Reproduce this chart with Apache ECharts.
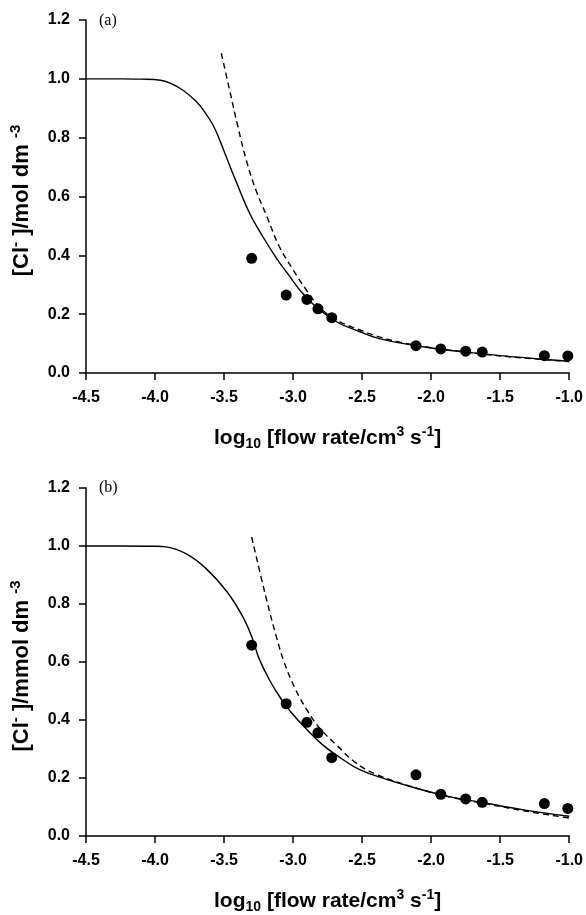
<!DOCTYPE html>
<html>
<head>
<meta charset="utf-8">
<script src="https://cdn.jsdelivr.net/npm/echarts@6/dist/echarts.min.js"></script>
<style>html,body{margin:0;padding:0;background:#fff;}#c{width:586px;height:915px;}</style>
</head>
<body>
<div id="c"></div>
<script>
// ---- data ----
var xTicks = [-4.5, -4.0, -3.5, -3.0, -2.5, -2.0, -1.5, -1.0];
var yTicks = [0.0, 0.2, 0.4, 0.6, 0.8, 1.0, 1.2];

var obsX = [-3.30, -3.05, -2.90, -2.82, -2.72, -2.11, -1.93, -1.75, -1.63, -1.18, -1.01];
var obsA = [0.390, 0.265, 0.250, 0.218, 0.188, 0.093, 0.082, 0.074, 0.071, 0.059, 0.058];
var obsB = [0.658, 0.456, 0.392, 0.356, 0.270, 0.211, 0.144, 0.128, 0.116, 0.112, 0.095];

var solidAX = [-4.50, -4.25, -4.10, -3.96, -3.82, -3.70, -3.64, -3.58, -3.53, -3.48, -3.41, -3.315, -3.22, -3.12, -3.03, -2.93, -2.81, -2.67, -2.52, -2.40, -2.25, -2.00, -1.75, -1.50, -1.25, -1.00];
var solidAY = [1.000, 1.000, 0.999, 0.995, 0.968, 0.922, 0.887, 0.843, 0.790, 0.730, 0.648, 0.543, 0.464, 0.390, 0.332, 0.270, 0.215, 0.170, 0.141, 0.120, 0.104, 0.085, 0.071, 0.059, 0.049, 0.040];

var dashAX = [-3.52, -3.46, -3.40, -3.34, -3.27, -3.19, -3.10, -3.00, -2.905, -2.79, -2.665, -2.52, -2.40, -2.25, -2.00, -1.75, -1.50, -1.25, -1.00];
var dashAY = [1.087, 0.962, 0.838, 0.725, 0.623, 0.532, 0.430, 0.351, 0.283, 0.215, 0.175, 0.147, 0.126, 0.107, 0.086, 0.071, 0.058, 0.048, 0.039];

var solidBX = [-4.50, -4.25, -4.00, -3.92, -3.77, -3.63, -3.48, -3.36, -3.29, -3.25, -3.17, -3.09, -3.01, -2.90, -2.79, -2.68, -2.55, -2.41, -2.14, -1.87, -1.60, -1.33, -1.00];
var solidBY = [1.000, 1.000, 0.999, 0.997, 0.972, 0.922, 0.843, 0.752, 0.675, 0.616, 0.537, 0.475, 0.424, 0.367, 0.316, 0.277, 0.237, 0.209, 0.169, 0.136, 0.113, 0.090, 0.068];

var dashBX = [-3.30, -3.20, -3.12, -3.06, -2.98, -2.90, -2.82, -2.68, -2.55, -2.41, -2.14, -1.87, -1.60, -1.33, -1.00];
var dashBY = [1.031, 0.830, 0.685, 0.593, 0.503, 0.435, 0.379, 0.311, 0.254, 0.215, 0.170, 0.135, 0.111, 0.087, 0.062];

var panelLabels = ['(a)', '(b)'];
var yTitles = ['{n|[Cl}{sup|-}{n| ]/mol dm }{sup|-3}', '{n|[Cl}{sup|-}{n| ]/mmol dm }{sup|-3}'];
var xTitle = '{n|log}{sub|10}{n| [flow rate/cm}{sup|3}{n| s}{sup|-1}{n|]}';

// ---- helpers ----
function pairs(xs, ys) { return xs.map(function (x, i) { return [x, ys[i]]; }); }
var FONT = 'Liberation Sans, Arial, sans-serif';
function richFor(size, supSize) {
  var lh = Math.round(size * 1.25);
  return {
    n: { fontSize: size, fontWeight: 'bold', fontFamily: FONT, color: '#000', lineHeight: lh },
    sup: { fontSize: supSize, fontWeight: 'bold', fontFamily: FONT, color: '#000', verticalAlign: 'top', lineHeight: lh, padding: [0, 0, Math.round(size * 0.52), 0] },
    sub: { fontSize: supSize, fontWeight: 'bold', fontFamily: FONT, color: '#000', verticalAlign: 'bottom', lineHeight: lh, padding: [Math.round(size * 0.43), 0, 0, 0] }
  };
}
var grids = [
  { left: 86, top: 20, width: 486, height: 353 },
  { left: 86, top: 488, width: 486, height: 354 }
];
function xAxisFor(i) {
  return {
    type: 'value', gridIndex: i, min: xTicks[0], max: xTicks[xTicks.length - 1], interval: 0.5,
    axisLine: { show: true, onZero: false, lineStyle: { color: '#000', width: 1.5 } },
    axisTick: { show: true, length: 7, lineStyle: { color: '#000', width: 1.5 } },
    splitLine: { show: false },
    axisLabel: { margin: 17, color: '#000', fontSize: 16, fontWeight: 'bold', fontFamily: FONT,
      formatter: function (v) { return v.toFixed(1); } },
    name: xTitle, nameLocation: 'middle', nameGap: 52,
    nameTextStyle: { rich: richFor(21, 14) }
  };
}
function yAxisFor(i) {
  return {
    type: 'value', gridIndex: i, min: yTicks[0], max: yTicks[yTicks.length - 1], interval: 0.2,
    axisLine: { show: true, onZero: false, lineStyle: { color: '#000', width: 1.5 } },
    axisTick: { show: true, length: 7, lineStyle: { color: '#000', width: 1.5 } },
    splitLine: { show: false },
    axisLabel: { margin: 16, color: '#000', fontSize: 16, fontWeight: 'bold', fontFamily: FONT,
      formatter: function (v) { return v.toFixed(1); } },
    name: yTitles[i], nameLocation: 'middle', nameGap: 50,
    nameTextStyle: { rich: richFor(22, 15), padding: [0, 8, 0, 0] }
  };
}
function lineSeries(i, xs, ys, dashed) {
  return {
    type: 'line', xAxisIndex: i, yAxisIndex: i, data: pairs(xs, ys),
    showSymbol: false, smooth: 0.4, silent: true, animation: false,
    lineStyle: { color: '#000', width: 1.4, type: dashed ? [6, 4] : 'solid' }
  };
}
function scatterSeries(i, ys) {
  return {
    type: 'scatter', xAxisIndex: i, yAxisIndex: i, data: pairs(obsX, ys),
    symbol: 'circle', symbolSize: 11, itemStyle: { color: '#000', opacity: 1 }, animation: false
  };
}

var chart = echarts.init(document.getElementById('c'));
chart.setOption({
  backgroundColor: '#fff',
  animation: false,
  title: [
    { text: panelLabels[0], left: 99, top: 13, padding: 0,
      textStyle: { fontFamily: 'Liberation Serif, Times New Roman, serif', fontWeight: 'normal', fontSize: 16, color: '#000' } },
    { text: panelLabels[1], left: 99, top: 480, padding: 0,
      textStyle: { fontFamily: 'Liberation Serif, Times New Roman, serif', fontWeight: 'normal', fontSize: 16, color: '#000' } }
  ],
  grid: grids,
  xAxis: [xAxisFor(0), xAxisFor(1)],
  yAxis: [yAxisFor(0), yAxisFor(1)],
  series: [
    lineSeries(0, solidAX, solidAY, false),
    lineSeries(0, dashAX, dashAY, true),
    scatterSeries(0, obsA),
    lineSeries(1, solidBX, solidBY, false),
    lineSeries(1, dashBX, dashBY, true),
    scatterSeries(1, obsB)
  ]
});
</script>
</body>
</html>
